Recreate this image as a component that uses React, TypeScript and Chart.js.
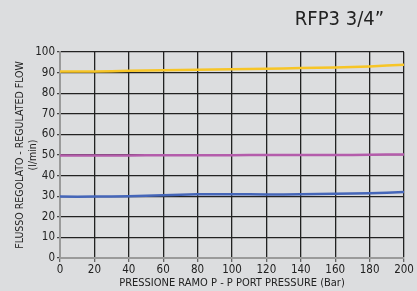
import React, { useEffect, useRef } from "react";
import { Chart, registerables } from "chart.js";

Chart.register(...registerables);

const pressures = [0, 20, 40, 60, 80, 100, 120, 140, 160, 180, 200];
const yellowFlow = [90.5, 90.5, 90.9, 91.2, 91.4, 91.6, 91.9, 92.2, 92.5, 93, 93.8];
const pinkFlow = [49.8, 49.8, 49.8, 49.9, 49.9, 49.9, 50, 50, 50, 50.1, 50.3];
const blueFlow = [29.8, 29.8, 30, 30.5, 30.9, 31, 30.8, 31, 31.2, 31.4, 32];
const titleText = "RFP3 3/4\u201D";
const yTitle = ["FLUSSO REGOLATO - REGULATED FLOW", "(l/min)"];
const xTitle = "PRESSIONE RAMO P - P PORT PRESSURE (Bar)";

const FONT = "'DejaVu Sans Condensed', 'DejaVu Sans', sans-serif";

export default function App() {
  const ref = useRef<HTMLCanvasElement | null>(null);
  useEffect(() => {
    document.body.style.margin = "0";
    document.body.style.background = "#dcdddf";
    const titlePlugin = {
      id: "topTitle",
      afterDraw(chart: any) {
        const ctx = chart.ctx;
        ctx.save();
        ctx.fillStyle = "#222";
        ctx.font = `20px ${FONT}`;
        ctx.textAlign = "right";
        ctx.textBaseline = "middle";
        ctx.fillText(titleText, 384, 20);
        ctx.restore();
      },
    };
    const mk = (data: number[], color: string) => ({
      data: pressures.map((x, i) => ({ x, y: data[i] })),
      borderColor: color,
      borderWidth: 2.5,
      pointRadius: 0,
      tension: 0.2,
      fill: false,
    });
    const chart = new Chart(ref.current as HTMLCanvasElement, {
      type: "line",
      data: {
        datasets: [
          mk(yellowFlow, "#f7c526"),
          mk(pinkFlow, "#b45cab"),
          mk(blueFlow, "#4566b9"),
        ],
      },
      plugins: [titlePlugin],
      options: {
        animation: false,
        responsive: false,
        layout: { padding: { top: 52, right: 13, left: 14, bottom: 0 } },
        plugins: { legend: { display: false }, tooltip: { enabled: false } },
        scales: {
          x: {
            type: "linear",
            min: 0,
            max: 200,
            ticks: { stepSize: 20, color: "#222", font: { family: FONT, size: 11.5 }, padding: 1 },
            grid: {
              color: (c: any) => (c.index === 0 ? "#9a9a9a" : "#222"),
              lineWidth: 1.3,
              tickLength: 4,
              tickColor: "#666",
            },
            border: { color: "#9a9a9a", width: 2 },
            title: {
              display: true,
              text: xTitle,
              color: "#222",
              font: { family: FONT, size: 11 },
              padding: { top: 0, bottom: 1 },
            },
            afterFit(s: any) {
              s.height = 33;
            },
          },
          y: {
            min: 0,
            max: 100,
            ticks: { stepSize: 10, color: "#222", font: { family: FONT, size: 11.5 }, padding: 2 },
            grid: {
              color: (c: any) => (c.index === 0 ? "#9a9a9a" : "#222"),
              lineWidth: 1.3,
              tickLength: 3,
              tickColor: "#444",
            },
            border: { color: "#9a9a9a", width: 2 },
            title: {
              display: true,
              text: yTitle,
              color: "#222",
              font: { family: FONT, size: 10.5 },
              padding: { top: 0, bottom: 0 },
            },
            afterFit(s: any) {
              s.width = 46;
            },
          },
        },
      },
    } as any);
    return () => chart.destroy();
  }, []);
  return (
    <div style={{ width: 417, height: 291, background: "#dcdddf" }}>
      <canvas ref={ref} width={417} height={291} />
    </div>
  );
}
